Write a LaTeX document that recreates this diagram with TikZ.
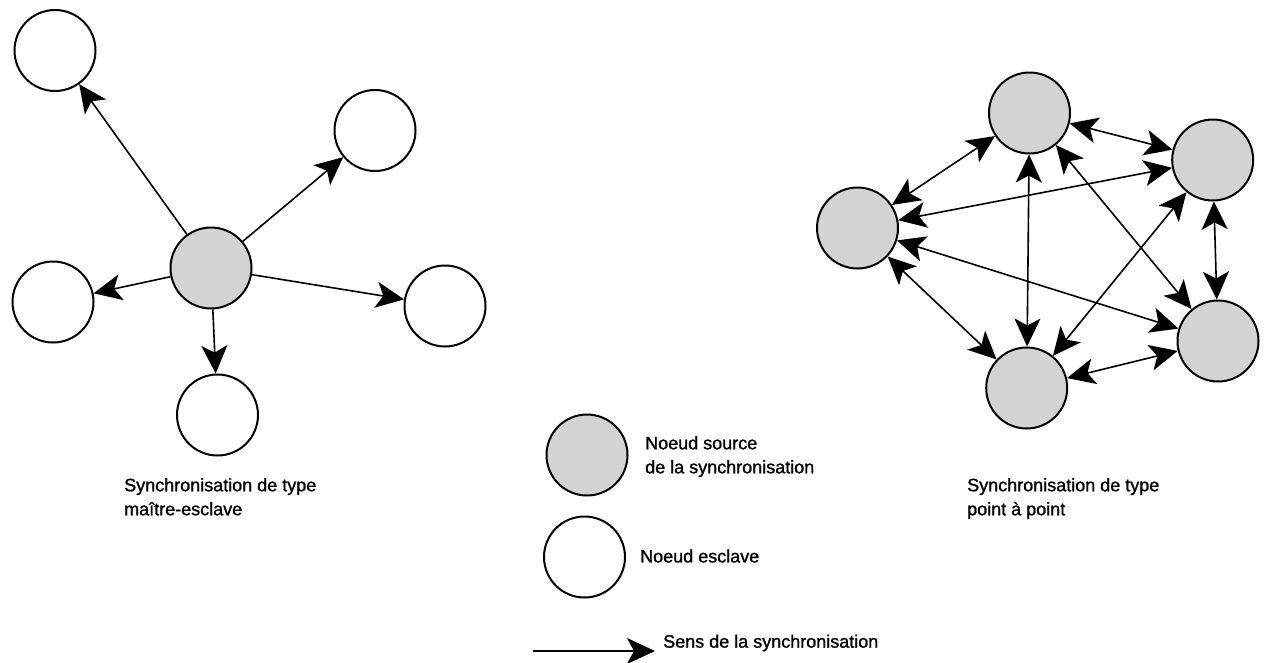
\documentclass[tikz,border=0pt]{standalone}
\usepackage{fontspec}
\setmainfont{Liberation Sans}[BoldFont=Liberation Sans,BoldFeatures={FakeBold=1.2}]
\usetikzlibrary{arrows.meta}
\definecolor{nodegray}{RGB}{211,211,211}
\tikzset{
  syncTip/.tip={Stealth[length=28pt,width=26pt,inset=7pt]}
}
\begin{document}
\begin{tikzpicture}[x=1pt,y=-1pt,
  slave/.style={circle,draw=black,line width=2pt,fill=white,minimum size=81pt,inner sep=0pt},
  master/.style={slave,fill=nodegray},
  sync/.style={line width=1.6pt,-syncTip},
  bisync/.style={line width=1.6pt,syncTip-syncTip},
  label/.style={inner sep=0pt,align=left,font=\fontsize{18}{24}\selectfont\bfseries}
]
\useasboundingbox (0,0) rectangle (1264,662);
% left: master-slave
\node[master] (c) at (211,268) {};
\node[slave] (s1) at (55,50.5) {};
\node[slave] (s2) at (375,130.5) {};
\node[slave] (s3) at (53,302) {};
\node[slave] (s4) at (445,306) {};
\node[slave] (s5) at (217.5,415) {};
\foreach \s in {s1,s2,s3,s4,s5} \draw[sync] (c) -- (\s);
\node[label,anchor=north west] (capL) at (124,478) {Synchronisation de type\\maître-esclave};
% right: peer to peer
\node[master] (p1) at (1029.5,113) {};
\node[master] (p2) at (1212.7,160) {};
\node[master] (p3) at (857.5,228) {};
\node[master] (p4) at (1218,341) {};
\node[master] (p5) at (1026.7,388) {};
\draw[bisync] (p1) -- (p2);
\draw[bisync] (p1) -- (p3);
\draw[bisync] (p1) -- (p4);
\draw[bisync] (p1) -- (p5);
\draw[bisync] (p2) -- (p3);
\draw[bisync] (p2) -- (p4);
\draw[bisync] (p2) -- (p5);
\draw[bisync] (p3) -- (p4);
\draw[bisync] (p3) -- (p5);
\draw[bisync] (p5) -- (p4);
\node[label,anchor=north west] (capR) at (967,478) {Synchronisation de type\\point à point};
% legend
\node[master] (lm) at (587,455) {};
\node[label,anchor=north west] (lmt) at (645,436) {Noeud source\\de la synchronisation};
\node[slave] (ls) at (584.5,557) {};
\node[label,anchor=west] (lst) at (640,556) {Noeud esclave};
\coordinate (la) at (533,651);
\coordinate (lb) at (655,651);
\draw[sync] (la) -- (lb);
\node[label,anchor=west] (lat) at (663,643) {Sens de la synchronisation};
\end{tikzpicture}
\end{document}
